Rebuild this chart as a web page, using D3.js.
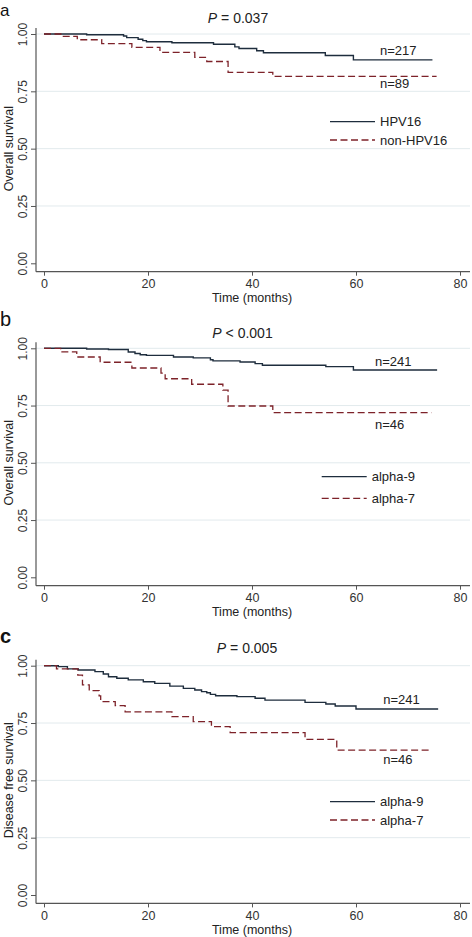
<!DOCTYPE html>
<html><head><meta charset="utf-8">
<script src="https://cdn.jsdelivr.net/npm/d3@7"></script>
<style>
html,body{margin:0;padding:0;background:#fff;}
svg{display:block;font-family:"Liberation Sans",Arial,sans-serif;}
</style></head>
<body><svg id="chart" width="472" height="937"></svg>
<script>
// ---------- data ----------
const xTicks = [0, 20, 40, 60, 80];
const yTicks = [0, 0.25, 0.5, 0.75, 1];
const yTickLabels = ["0.00", "0.25", "0.50", "0.75", "1.00"];
const xTitle = "Time (months)";

// Panel a: overall survival, HPV16 vs non-HPV16
const osHPV16 = [[0,1],[8.2,0.997],[15.3,0.991],[15.9,0.984],[18.1,0.977],[19.0,0.971],[19.7,0.966],[24.6,0.962],[32.6,0.955],[36.7,0.944],[37.5,0.937],[40.9,0.927],[42.2,0.918],[54.1,0.906],[59.5,0.887],[74.7,0.887]];
const osNonHPV16 = [[0,1],[3.5,0.990],[6.4,0.975],[11.1,0.958],[16.9,0.942],[22.3,0.920],[29,0.898],[31.3,0.880],[35.4,0.833],[44,0.815],[75.5,0.815]];
// Panel b: overall survival, alpha-9 vs alpha-7
const osAlpha9 = [[0,1],[8.2,0.997],[12.4,0.995],[16.2,0.984],[17.5,0.977],[18.5,0.972],[19.7,0.969],[24.9,0.962],[28.7,0.958],[32,0.950],[32.5,0.945],[37.7,0.940],[40.6,0.933],[42,0.926],[54.2,0.920],[59.5,0.905],[75.6,0.905]];
const osAlpha7 = [[0,1],[3.2,0.984],[6.3,0.962],[10.8,0.939],[16.9,0.914],[22.5,0.892],[23.3,0.867],[28.4,0.843],[34.4,0.817],[35.4,0.748],[44,0.719],[74.5,0.719]];
// Panel c: disease free survival, alpha-9 vs alpha-7
const dfsAlpha9 = [[0,1],[2.75,0.996],[4.5,0.986],[6.6,0.981],[9.8,0.974],[11.4,0.964],[12.4,0.952],[14,0.945],[16.2,0.938],[19.1,0.930],[21.3,0.923],[24.2,0.911],[26.8,0.901],[29,0.894],[30.3,0.887],[31.3,0.882],[32,0.875],[33,0.869],[37.1,0.865],[40.6,0.858],[42.5,0.850],[50.2,0.840],[54.2,0.833],[56,0.824],[60,0.811],[75.8,0.811]];
const dfsAlpha7 = [[0,1],[2.4,0.986],[6.5,0.959],[7.4,0.916],[8.7,0.891],[10.6,0.868],[10.9,0.843],[13.7,0.826],[15.6,0.799],[24.6,0.778],[28.7,0.756],[32.2,0.734],[35.8,0.708],[50.2,0.679],[56.3,0.632],[74.6,0.632]];

const panelLetters = ["a", "b", "c"];
const pValues = [["P", " = 0.037"], ["P", " < 0.001"], ["P", " = 0.005"]];
const yTitles = ["Overall survival", "Overall survival", "Disease free survival"];
const seriesNames = [["HPV16", "non-HPV16"], ["alpha-9", "alpha-7"], ["alpha-9", "alpha-7"]];
const nLabels = [["n=217", "n=89"], ["n=241", "n=46"], ["n=241", "n=46"]];
const seriesData = [[osHPV16, osNonHPV16], [osAlpha9, osAlpha7], [dfsAlpha9, dfsAlpha7]];

// ---------- layout (positions, not data) ----------
const layout = [
  {top: 34, bottom: 263.3, letterY: 15.5, letterSize: 17, letterWeight: "normal", titleX: 238, titleY: 23.3, legX: 330, legY: [121.7, 140], nX: 380, nY: [55, 88.3]},
  {top: 348.3, bottom: 577.3, letterY: 326, letterSize: 20, letterWeight: "normal", titleX: 242.5, titleY: 338.3, legX: 321.7, legY: [476.7, 498.3], nX: 375, nY: [365.7, 429]},
  {top: 665.7, bottom: 895, letterY: 643, letterSize: 20, letterWeight: "bold", titleX: 247, titleY: 653.3, legX: 330, legY: [801.7, 820], nX: 383.3, nY: [704.3, 764]}
];
const axisX = 36, rightEdge = 470;
const colSolid = "#1e2d3d", colDash = "#7d2229";
const dashPattern = "7,3.5";

const svg = d3.select("#chart");
const x = d3.scaleLinear().domain([0, 80]).range([44, 460]);

layout.forEach((L, i) => {
  const g = svg.append("g");
  const y = d3.scaleLinear().domain([0, 1]).range([L.bottom, L.top]);
  const axisY = L.bottom + 8.4;

  // gridlines
  g.selectAll("line.grid").data(yTicks.filter(d => d > 0)).join("line")
    .attr("x1", axisX).attr("x2", rightEdge)
    .attr("y1", d => y(d)).attr("y2", d => y(d))
    .attr("stroke", "#e2eaed").attr("stroke-width", 1);

  // y axis
  const yAxis = d3.axisLeft(y).tickValues(yTicks).tickSize(5).tickFormat((d, k) => yTickLabels[k]);
  const ya = g.append("g").attr("transform", `translate(${axisX},0)`).call(yAxis);
  ya.select(".domain").remove();
  ya.selectAll(".tick line").attr("stroke", "#555");
  ya.selectAll(".tick text")
    .attr("x", null).attr("dy", null)
    .attr("transform", "translate(-9,0) rotate(-90)")
    .attr("text-anchor", "middle")
    .attr("font-size", 12).attr("fill", "#333")
    .attr("font-family", "'Liberation Sans',Arial,sans-serif");
  g.append("line").attr("x1", axisX).attr("x2", axisX)
    .attr("y1", L.top - 6).attr("y2", axisY).attr("stroke", "#555").attr("stroke-width", 1.2);

  // x axis
  const xAxis = d3.axisBottom(x).tickValues(xTicks).tickSize(4).tickFormat(d3.format("d"));
  const xa = g.append("g").attr("transform", `translate(0,${axisY})`).call(xAxis);
  xa.select(".domain").remove();
  xa.selectAll(".tick line").attr("stroke", "#555");
  xa.selectAll(".tick text").attr("y", 16.5).attr("dy", null)
    .attr("font-size", 12.5).attr("fill", "#333")
    .attr("font-family", "'Liberation Sans',Arial,sans-serif");
  g.append("line").attr("x1", axisX).attr("x2", rightEdge)
    .attr("y1", axisY).attr("y2", axisY).attr("stroke", "#555").attr("stroke-width", 1.2);

  // x title
  g.append("text").attr("x", 252).attr("y", axisY + 30.5)
    .attr("text-anchor", "middle").attr("font-size", 12.5).attr("fill", "#222").text(xTitle);

  // y title
  g.append("text").attr("transform", `translate(13,${(L.top + L.bottom) / 2}) rotate(-90)`)
    .attr("text-anchor", "middle").attr("font-size", 12.5).attr("fill", "#222").text(yTitles[i]);

  // panel letter
  g.append("text").attr("x", 0).attr("y", L.letterY)
    .attr("font-size", L.letterSize).attr("font-weight", L.letterWeight)
    .attr("fill", "#111").text(panelLetters[i]);

  // P title
  const t = g.append("text").attr("x", L.titleX).attr("y", L.titleY)
    .attr("text-anchor", "middle").attr("font-size", 14).attr("fill", "#222");
  t.append("tspan").attr("font-style", "italic").text(pValues[i][0]);
  t.append("tspan").text(pValues[i][1]);

  // curves
  const line = d3.line().x(d => x(d[0])).y(d => y(d[1])).curve(d3.curveStepAfter);
  seriesData[i].forEach((s, k) => {
    g.append("path").datum(s).attr("d", line).attr("fill", "none")
      .attr("stroke", k === 0 ? colSolid : colDash)
      .attr("stroke-width", k === 0 ? 1.4 : 1.3)
      .attr("stroke-dasharray", k === 0 ? null : dashPattern);
  });

  // n labels
  nLabels[i].forEach((n, k) => {
    g.append("text").attr("x", L.nX).attr("y", L.nY[k])
      .attr("font-size", 13).attr("fill", "#222").text(n);
  });

  // legend
  seriesNames[i].forEach((nm, k) => {
    g.append("line").attr("x1", L.legX).attr("x2", L.legX + 45)
      .attr("y1", L.legY[k]).attr("y2", L.legY[k])
      .attr("stroke", k === 0 ? colSolid : colDash).attr("stroke-width", 1.3)
      .attr("stroke-dasharray", k === 0 ? null : dashPattern);
    g.append("text").attr("x", L.legX + 50).attr("y", L.legY[k]).attr("dy", "0.36em")
      .attr("font-size", 13).attr("fill", "#222").text(nm);
  });
});
</script></body></html>
